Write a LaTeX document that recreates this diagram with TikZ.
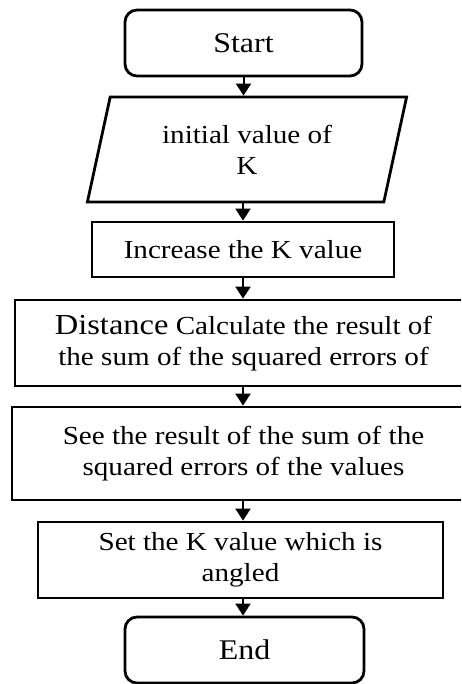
\documentclass[tikz,border=0pt]{standalone}
\usepackage{fontspec}
\setmainfont{Liberation Serif}[FakeStretch=1.12]
\usetikzlibrary{arrows.meta,shapes.geometric}

\begin{document}
\begin{tikzpicture}[x=1pt, y=-1pt,
    box/.style={draw, line width=2.8pt, align=center, inner sep=0pt,
                font=\fontsize{26}{31}\selectfont},
    term/.style={box, rounded corners=12pt, font=\fontsize{28.5}{34}\selectfont},
    io/.style={box, trapezium, trapezium left angle=74, trapezium right angle=106,
               trapezium stretches},
    arr/.style={-{Triangle[length=12pt, width=15pt]}, line width=2pt}]
  \useasboundingbox (0,0) rectangle (461,684);
  \clip (0,0) rectangle (461,684);
  \node[term, minimum width=237pt, minimum height=66pt] (start) at (243.5,43) {Start};
  \node[io, minimum width=320pt, minimum height=105pt] (init) at (247,149.5) {initial value of\\K};
  \node[box, minimum width=302pt, minimum height=55pt] (inc) at (243,249.5) {Increase the K value};
  \node[box, minimum width=457pt, minimum height=86pt] (dist) at (243.5,343)
    {{\fontsize{29}{33}\selectfont Distance} Calculate the result of\\the sum of the squared errors of};
  \node[box, minimum width=463pt, minimum height=93pt] (see) at (243.5,453.5)
    {See the result of the sum of the\\squared errors of the values};
  \node[box, minimum width=405pt, minimum height=76pt] (set) at (240.5,560) {Set the K value which is\\angled};
  \node[term, minimum width=239pt, minimum height=66pt] (end) at (244.5,650) {End};
  \draw[arr] (start.south) -- (start.south |- init.north);
  \draw[arr] (init.south -| inc.north) -- (inc.north);
  \draw[arr] (inc.south) -- (inc.south |- dist.north);
  \draw[arr] (dist.south -| inc.south) -- (inc.south |- see.north);
  \draw[arr] (see.south -| inc.south) -- (inc.south |- set.north);
  \draw[arr] (set.south -| inc.south) -- (inc.south |- end.north);
\end{tikzpicture}
\end{document}
